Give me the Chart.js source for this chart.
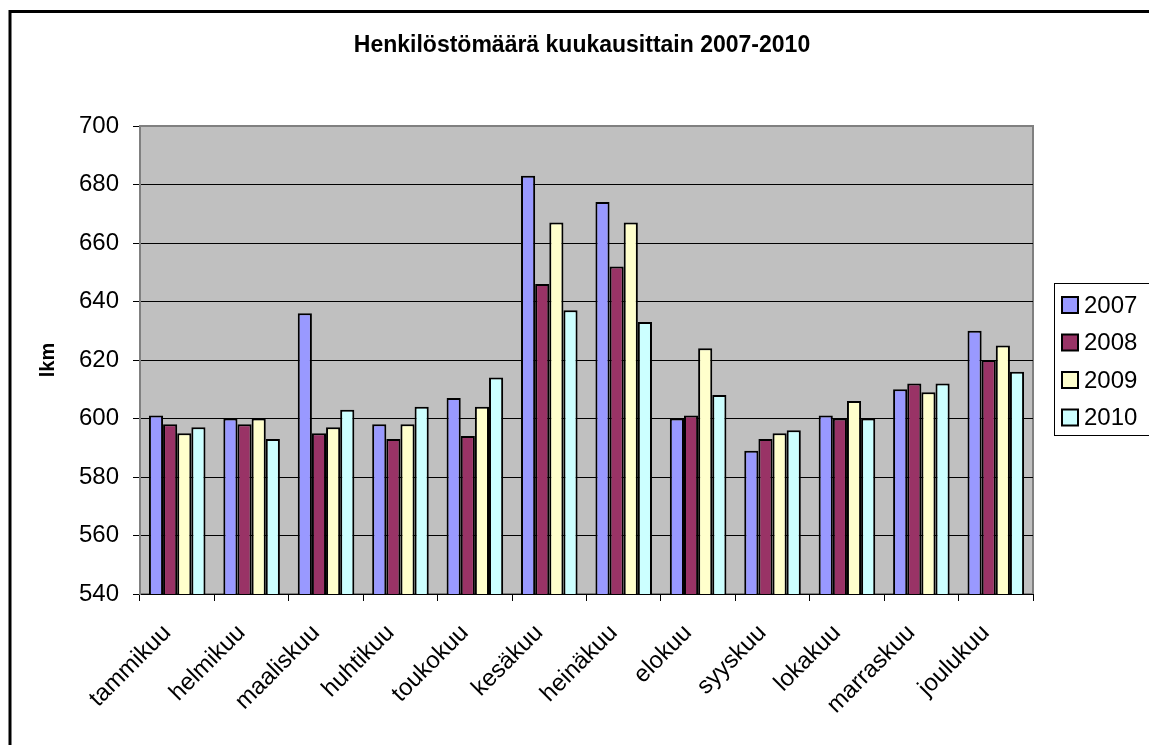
<!DOCTYPE html>
<html>
<head>
<meta charset="utf-8">
<script src="https://cdn.jsdelivr.net/npm/chart.js"></script>
<style>
  html, body { margin: 0; padding: 0; background: #fff; }
</style>
</head>
<body>
<canvas id="henkilosto_chart" width="1149" height="745"></canvas>
<script>
var months = ["tammikuu", "helmikuu", "maaliskuu", "huhtikuu", "toukokuu", "kesäkuu",
    "heinäkuu", "elokuu", "syyskuu", "lokakuu", "marraskuu", "joulukuu"];
var years = ["2007", "2008", "2009", "2010"];
var values2007 = [601, 600, 636, 598, 607, 683, 674, 600, 589, 601, 610, 630];
var values2008 = [598, 598, 595, 593, 594, 646, 652, 601, 593, 600, 612, 620];
var values2009 = [595, 600, 597, 598, 604, 667, 667, 624, 595, 606, 609, 625];
var values2010 = [597, 593, 603, 604, 614, 637, 633, 608, 596, 600, 612, 616];
var yMin = 540;
var yMax = 700;
var yStep = 20;
var chartTitle = 'Henkilöstömäärä kuukausittain 2007-2010';

var barColors = ['#9999FF', '#993366', '#FFFFCC', '#CCFFFF'];
var fontFamily = "'Liberation Sans', Arial, sans-serif";

// grey plot area with a darker frame, like the old Excel charts
var plotBackground = {
    id: 'plotBackground',
    beforeDraw: function (chart) {
        var ctx = chart.ctx;
        var a = chart.chartArea;
        ctx.save();
        ctx.fillStyle = '#C0C0C0';
        ctx.fillRect(a.left, a.top, a.right - a.left, a.bottom - a.top);
        ctx.strokeStyle = '#808080';
        ctx.lineWidth = 2;
        ctx.strokeRect(a.left, a.top, a.right - a.left, a.bottom - a.top);
        ctx.restore();
    }
};

// title centred on the whole frame, legend in a box, outer border
var frameAndLegend = {
    id: 'frameAndLegend',
    afterDraw: function (chart) {
        var ctx = chart.ctx;
        ctx.save();
        ctx.strokeStyle = '#000';
        ctx.lineWidth = 3;
        ctx.beginPath();
        ctx.moveTo(10, 745);
        ctx.lineTo(10, 11.5);
        ctx.lineTo(1149, 11.5);
        ctx.stroke();

        ctx.fillStyle = '#000';
        ctx.font = "bold 23px " + fontFamily;
        ctx.textAlign = 'center';
        ctx.textBaseline = 'middle';
        ctx.fillText(chartTitle, 582, 46);

        ctx.lineWidth = 1;
        ctx.strokeRect(1054.5, 283.5, 120, 152);
        ctx.font = "24px " + fontFamily;
        ctx.textAlign = 'left';
        var datasets = chart.data.datasets;
        for (var i = 0; i < datasets.length; i++) {
            var y = 305 + i * 37.5;
            ctx.fillStyle = datasets[i].backgroundColor;
            ctx.fillRect(1062, y - 8, 16, 16);
            ctx.lineWidth = 2;
            ctx.strokeRect(1062, y - 8, 16, 16);
            ctx.fillStyle = '#000';
            ctx.fillText(datasets[i].label, 1084, y + 1);
        }
        ctx.restore();
    }
};

function makeDataset(index, values) {
    return {
        label: years[index],
        data: values,
        backgroundColor: barColors[index],
        borderColor: '#000',
        borderWidth: 2,
        borderSkipped: false,
        barPercentage: 1,
        categoryPercentage: 0.76
    };
}

var chart = new Chart(document.getElementById('henkilosto_chart').getContext('2d'), {
    type: 'bar',
    data: {
        labels: months,
        datasets: [
            makeDataset(0, values2007),
            makeDataset(1, values2008),
            makeDataset(2, values2009),
            makeDataset(3, values2010)
        ]
    },
    options: {
        responsive: false,
        animation: false,
        devicePixelRatio: 1,
        layout: {padding: {left: 36, right: 116, top: 126, bottom: 0}},
        plugins: {
            legend: {display: false},
            tooltip: {enabled: false},
            title: {display: false}
        },
        scales: {
            x: {
                afterFit: function (scale) { scale.height = 151; },
                grid: {drawOnChartArea: false, drawTicks: true, tickLength: 7, color: '#000', offset: true},
                border: {color: '#000', width: 1},
                ticks: {
                    color: '#000',
                    font: {family: fontFamily, size: 24},
                    minRotation: 45,
                    maxRotation: 45,
                    padding: 18,
                    labelOffset: -10,
                    autoSkip: false
                }
            },
            y: {
                min: yMin,
                max: yMax,
                afterFit: function (scale) { scale.width = 104; },
                grid: {
                    color: function (c) { return c.tick && c.tick.value === yMax ? '#808080' : '#000'; },
                    tickLength: 7,
                    tickColor: '#000'
                },
                border: {color: '#808080', width: 2},
                ticks: {
                    stepSize: yStep,
                    color: '#000',
                    padding: 14,
                    font: {family: fontFamily, size: 24}
                },
                title: {
                    display: true,
                    text: 'lkm',
                    color: '#000',
                    font: {family: fontFamily, size: 20, weight: 'bold'},
                    padding: {top: 0, bottom: 0}
                }
            }
        }
    },
    plugins: [plotBackground, frameAndLegend]
});
</script>
</body>
</html>
